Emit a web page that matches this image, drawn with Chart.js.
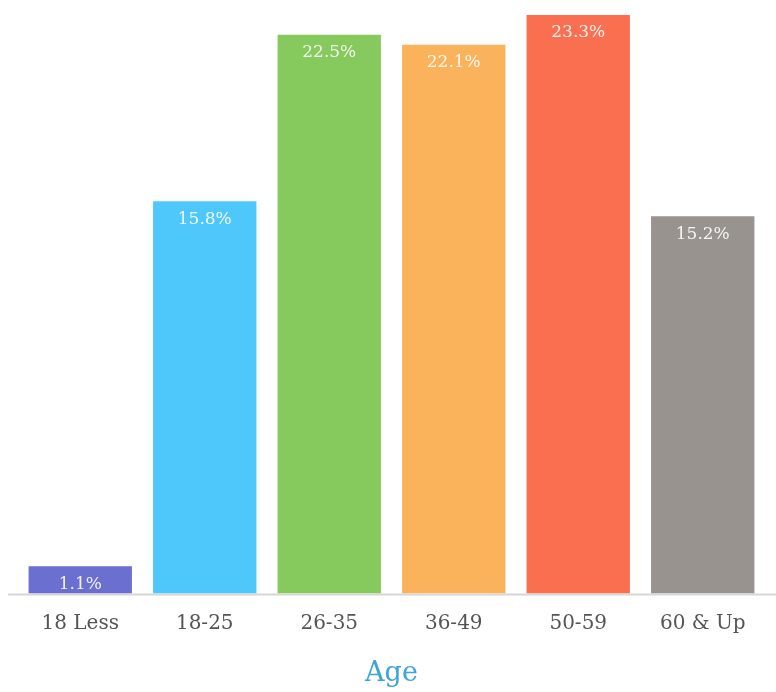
<!DOCTYPE html>
<html>
<head>
<meta charset="utf-8">
<script src="https://cdn.jsdelivr.net/npm/chart.js@4.4.1/dist/chart.umd.min.js"></script>
<style>
    html, body { margin: 0; padding: 0; background: #fff; }
    #wrap { width: 776px; height: 692px; }
</style>
</head>
<body>
<div id="wrap"><canvas id="myChart"></canvas></div>
<script>
// data
const ageGroups = ['18 Less', '18-25', '26-35', '36-49', '50-59', '60 & Up'];
const shares = [1.1, 15.8, 22.5, 22.1, 23.3, 15.2];
const barColors = ['#6b6fcf', '#4ec8fb', '#86c95c', '#fbb35b', '#fb6f51', '#98938f'];

const serif = '"DejaVu Serif", serif';

// white value text near the top of each bar
const valueLabels = {
    id: 'valueLabels',
    afterDatasetsDraw(chart) {
        const ctx = chart.ctx;
        const meta = chart.getDatasetMeta(0);
        ctx.save();
        ctx.font = '17px ' + serif;
        ctx.fillStyle = 'rgba(255,255,255,0.9)';
        ctx.textAlign = 'center';
        ctx.textBaseline = 'middle';
        meta.data.forEach(function (bar, i) {
            ctx.fillText(shares[i].toFixed(1) + '%', bar.x, bar.y + 18);
        });
        ctx.restore();
    }
};

// baseline running past the plot area
const baseLine = {
    id: 'baseLine',
    beforeDatasetsDraw(chart) {
        const ctx = chart.ctx;
        const y = chart.scales.y.getPixelForValue(0);
        ctx.save();
        ctx.strokeStyle = '#d6d6d6';
        ctx.lineWidth = 2;
        ctx.beginPath();
        ctx.moveTo(8, y + 1);
        ctx.lineTo(chart.width, y + 1);
        ctx.stroke();
        ctx.restore();
    }
};

const ctx = document.getElementById('myChart');
const myChart = new Chart(ctx, {
    type: 'bar',
    data: {
        labels: ageGroups,
        datasets: [{
            label: 'Age',
            data: shares,
            backgroundColor: barColors,
            borderWidth: 0,
            categoryPercentage: 1,
            barPercentage: 0.83
        }]
    },
    options: {
        responsive: true,
        maintainAspectRatio: false,
        animation: false,
        layout: {
            padding: { left: 18, right: 11, top: 15, bottom: 0 }
        },
        plugins: {
            legend: { display: false },
            tooltip: { enabled: false }
        },
        scales: {
            x: {
                grid: { display: false, drawTicks: false },
                border: { display: false },
                ticks: {
                    color: '#555',
                    font: { family: serif, size: 20 },
                    padding: 18
                },
                title: {
                    display: true,
                    text: 'Age',
                    color: '#3fa4d8',
                    font: { family: serif, size: 27 },
                    padding: { top: 4, bottom: 2 }
                }
            },
            y: {
                display: false,
                min: 0,
                max: 23.3
            }
        }
    },
    plugins: [baseLine, valueLabels]
});
</script>
</body>
</html>
